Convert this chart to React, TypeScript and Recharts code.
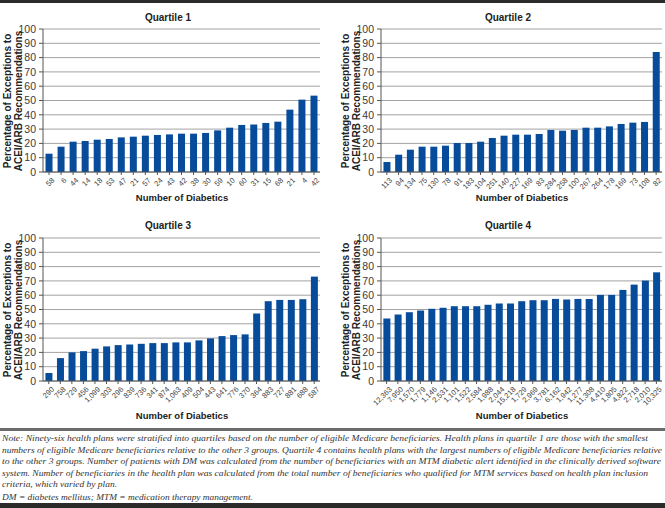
import { BarChart, Bar, XAxis, YAxis, CartesianGrid } from 'recharts';

// number of diabetics per plan (x labels) and % exceptions (bar heights)
const q1Labels = ['58', '6', '44', '14', '18', '53', '47', '21', '57', '24', '43', '42', '38', '30', '59', '10', '60', '31', '15', '68', '21', '4', '42'];
const q1Values = [12.8, 17.7, 21.2, 21.7, 22.6, 23.1, 24.2, 24.7, 25.4, 25.9, 26.3, 26.8, 26.8, 27.3, 29.1, 31.0, 32.9, 33.3, 34.3, 35.2, 43.6, 50.6, 53.4];

const q2Labels = ['113', '94', '134', '75', '130', '78', '91', '183', '104', '251', '140', '227', '169', '83', '284', '258', '100', '267', '264', '178', '169', '73', '108', '82'];
const q2Values = [7.0, 12.1, 15.6, 17.7, 17.7, 18.4, 20.3, 20.3, 21.2, 23.8, 25.4, 26.1, 26.1, 26.6, 29.4, 28.9, 29.4, 31.0, 31.0, 31.9, 33.6, 34.5, 35.0, 83.9];

const q3Labels = ['290', '758', '729', '456', '1,099', '303', '296', '839', '736', '341', '874', '1,063', '409', '504', '443', '641', '776', '370', '364', '883', '727', '881', '688', '587'];
const q3Values = [5.6, 16.0, 20.0, 20.9, 22.6, 24.2, 25.1, 25.6, 26.0, 26.5, 26.5, 27.0, 27.0, 28.4, 29.8, 31.4, 32.1, 32.6, 47.2, 55.8, 56.7, 56.7, 57.2, 73.0];

const q4Labels = ['12,363', '7,950', '1,570', '1,779', '1,146', '2,531', '1,101', '1,522', '2,584', '1,988', '2,044', '15,218', '1,729', '2,969', '3,781', '6,162', '1,942', '1,277', '11,308', '4,410', '1,805', '4,822', '2,718', '2,010', '10,325'];
const q4Values = [43.7, 46.5, 48.1, 49.3, 50.5, 51.2, 52.3, 52.3, 52.3, 53.3, 54.2, 54.2, 55.8, 56.5, 56.5, 57.4, 57.0, 57.4, 57.4, 60.2, 60.2, 63.7, 67.4, 70.2, 76.0];

const yTicks = [0, 10, 20, 30, 40, 50, 60, 70, 80, 90, 100];

const noteLines = [
  'Note: Ninety-six health plans were stratified into quartiles based on the number of eligible Medicare beneficiaries. Health plans in quartile 1 are those with the smallest',
  'numbers of eligible Medicare beneficiaries relative to the other 3 groups. Quartile 4 contains health plans with the largest numbers of eligible Medicare beneficiaries relative',
  'to the other 3 groups. Number of patients with DM was calculated from the number of beneficiaries with an MTM diabetic alert identified in the clinically derived software',
  'system. Number of beneficiaries in the health plan was calculated from the total number of beneficiaries who qualified for MTM services based on health plan inclusion',
  'criteria, which varied by plan.',
  'DM = diabetes mellitus; MTM = medication therapy management.',
];
const noteWidths = [646, 660, 659, 646, 115, 251];
const noteBaselines = [441, 452.5, 464, 475.5, 487, 500];

const BLUE = '#074b9b';
const FONT = '"Liberation Sans", Arial, sans-serif';

const XTick = (props: any) => {
  const { x, y, payload } = props;
  return (
    <g transform={`translate(${x + 3},${y + 1})`}>
      <text x={0} y={0} dy={4} textAnchor="end" transform="rotate(-45)" fontSize={7.5} fill="#444" fontFamily={FONT}>
        {payload.value}
      </text>
    </g>
  );
};

type PanelProps = {
  labels: string[];
  values: number[];
  left: number;
  top: number;
  width: number;
  height: number;
  plotLeft: number;
  plotTop: number;
  plotRight: number;
  plotBottom: number;
};

function Panel({ labels, values, left, top, width, height, plotLeft, plotTop, plotRight, plotBottom }: PanelProps) {
  const data = labels.map((label, i) => ({ label, value: values[i] }));
  return (
    <div style={{ position: 'absolute', left, top, width, height }}>
      <BarChart
        width={width}
        height={height}
        data={data}
        margin={{ top: plotTop - top, right: left + width - plotRight, left: 0, bottom: 0 }}
        barCategoryGap="21%"
      >
        <CartesianGrid vertical={false} stroke="#a3a3a3" />
        <XAxis
          dataKey="label"
          interval={0}
          height={top + height - plotBottom}
          tick={<XTick />}
          tickSize={3}
          axisLine={{ stroke: '#555' }}
          tickLine={{ stroke: '#555' }}
        />
        <YAxis
          domain={[0, 100]}
          ticks={yTicks}
          interval={0}
          width={plotLeft - left}
          tickSize={4}
          tickMargin={3}
          tick={{ fontSize: 10.5, fill: '#3a3a3a', fontFamily: FONT }}
          axisLine={{ stroke: '#555' }}
          tickLine={{ stroke: '#555' }}
        />
        <Bar dataKey="value" fill={BLUE} isAnimationActive={false} />
      </BarChart>
    </div>
  );
}

function YTitle({ y }: { y: number }) {
  return (
    <g fontFamily={FONT} fontSize={10} fontWeight="bold" fill="#222" textAnchor="middle">
      <text transform={`translate(11,${y}) rotate(-90)`}>Percentage of Exceptions to</text>
      <text transform={`translate(22,${y}) rotate(-90)`}>ACEI/ARB Recommendations</text>
    </g>
  );
}

export default function App() {
  return (
    <div style={{ position: 'absolute', left: 0, top: 0, width: 665, height: 508, background: '#fff', overflow: 'hidden' }}>
      <Panel labels={q1Labels} values={q1Values} left={0} top={0} width={330} height={195} plotLeft={43} plotTop={29} plotRight={320} plotBottom={172} />
      <Panel labels={q2Labels} values={q2Values} left={330} top={0} width={335} height={195} plotLeft={381} plotTop={29} plotRight={662} plotBottom={172} />
      <Panel labels={q3Labels} values={q3Values} left={0} top={210} width={330} height={200} plotLeft={43} plotTop={238} plotRight={320} plotBottom={381} />
      <Panel labels={q4Labels} values={q4Values} left={330} top={210} width={335} height={200} plotLeft={381} plotTop={238} plotRight={662} plotBottom={381} />
      <svg width={665} height={508} style={{ position: 'absolute', left: 0, top: 0, pointerEvents: 'none' }}>
        <rect x={0} y={0} width={665} height={3} fill="#2b2b2b" />
        <g fontFamily={FONT} fontSize={10} fontWeight="bold" fill="#222" textAnchor="middle">
          <text x={168} y={21}>Quartile 1</text>
          <text x={508} y={21}>Quartile 2</text>
          <text x={168} y={229}>Quartile 3</text>
          <text x={508} y={229}>Quartile 4</text>
        </g>
        <g fontFamily={FONT} fontSize={9.5} fontWeight="bold" fill="#222" textAnchor="middle">
          <text x={182} y={201}>Number of Diabetics</text>
          <text x={522} y={201}>Number of Diabetics</text>
          <text x={182} y={419}>Number of Diabetics</text>
          <text x={522} y={419}>Number of Diabetics</text>
        </g>
        <YTitle y={101} />
        <YTitle y={310} />
        <g transform="translate(338,0)">
          <YTitle y={101} />
          <YTitle y={310} />
        </g>
        <rect x={0} y={428} width={665} height={3} fill="#6b6b6b" />
        <g fontFamily='"Liberation Serif", "Times New Roman", serif' fontStyle="italic" fontSize={9.2} fill="#333">
          {noteLines.map((line, i) => (
            <text key={i} x={2} y={noteBaselines[i]} textLength={noteWidths[i]} lengthAdjust="spacingAndGlyphs">
              {line}
            </text>
          ))}
        </g>
        <rect x={0} y={503} width={665} height={5} fill="#2b2b2b" />
      </svg>
    </div>
  );
}
